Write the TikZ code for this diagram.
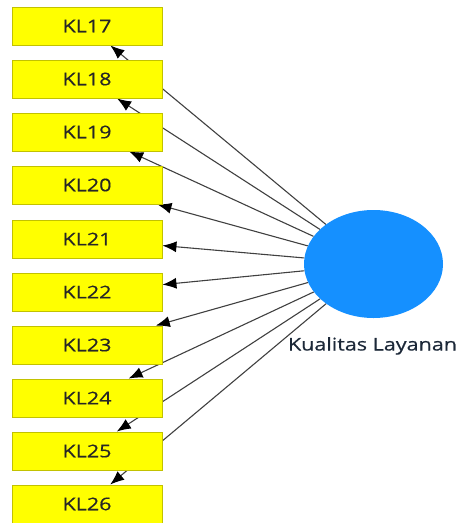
\documentclass[tikz,border=0pt]{standalone}
\usepackage{fontspec}
\setmainfont{Open Sans}
\newfontfamily\widefont[FakeStretch=1.23,FakeBold=0.5]{Open Sans}
\usetikzlibrary{shapes.geometric,arrows.meta,backgrounds}
\definecolor{boxfill}{HTML}{FFFF00}
\definecolor{boxline}{HTML}{C2C200}
\definecolor{lvfill}{HTML}{1590FF}
\definecolor{edgecol}{HTML}{404040}
\definecolor{labcol}{HTML}{1C2838}
\tikzset{
  ind/.style={draw=boxline, line width=0.9pt, fill=boxfill, rectangle,
    minimum width=150pt, minimum height=38pt, inner sep=0pt,
    font=\widefont\fontsize{17.5}{20}\selectfont, text=black!85},
  lv/.style={ellipse, fill=lvfill, draw=none, minimum width=139pt,
    minimum height=108pt, inner sep=0pt},
  edge/.style={draw=edgecol, line width=1.1pt,
    -{Latex[length=14pt,width=11pt,color=black]}}
}
\begin{document}
\begin{tikzpicture}[x=1pt,y=-1pt]
\useasboundingbox (0,0) rectangle (461,523);
\node[ind] (kl17) at (87,26) {KL17};
\node[ind] (kl18) at (87,79) {KL18};
\node[ind] (kl19) at (87,132) {KL19};
\node[ind] (kl20) at (87,185) {KL20};
\node[ind] (kl21) at (87,239) {KL21};
\node[ind] (kl22) at (87,292) {KL22};
\node[ind] (kl23) at (87,345) {KL23};
\node[ind] (kl24) at (87,398) {KL24};
\node[ind] (kl25) at (87,451) {KL25};
\node[ind] (kl26) at (87,504) {KL26};
\node[lv] (kualitas) at (373.5,264) {};
\node[text=labcol, font=\widefont\fontsize{17.5}{20}\selectfont, anchor=base] (lab) at (372.5,350.5) {Kualitas Layanan};
\begin{pgfonlayer}{background}
\foreach \n in {kl17,kl18,kl19,kl20,kl21,kl22,kl23,kl24,kl25,kl26}
  \draw[edge] (kualitas) -- (\n);
\end{pgfonlayer}
\end{tikzpicture}
\end{document}
